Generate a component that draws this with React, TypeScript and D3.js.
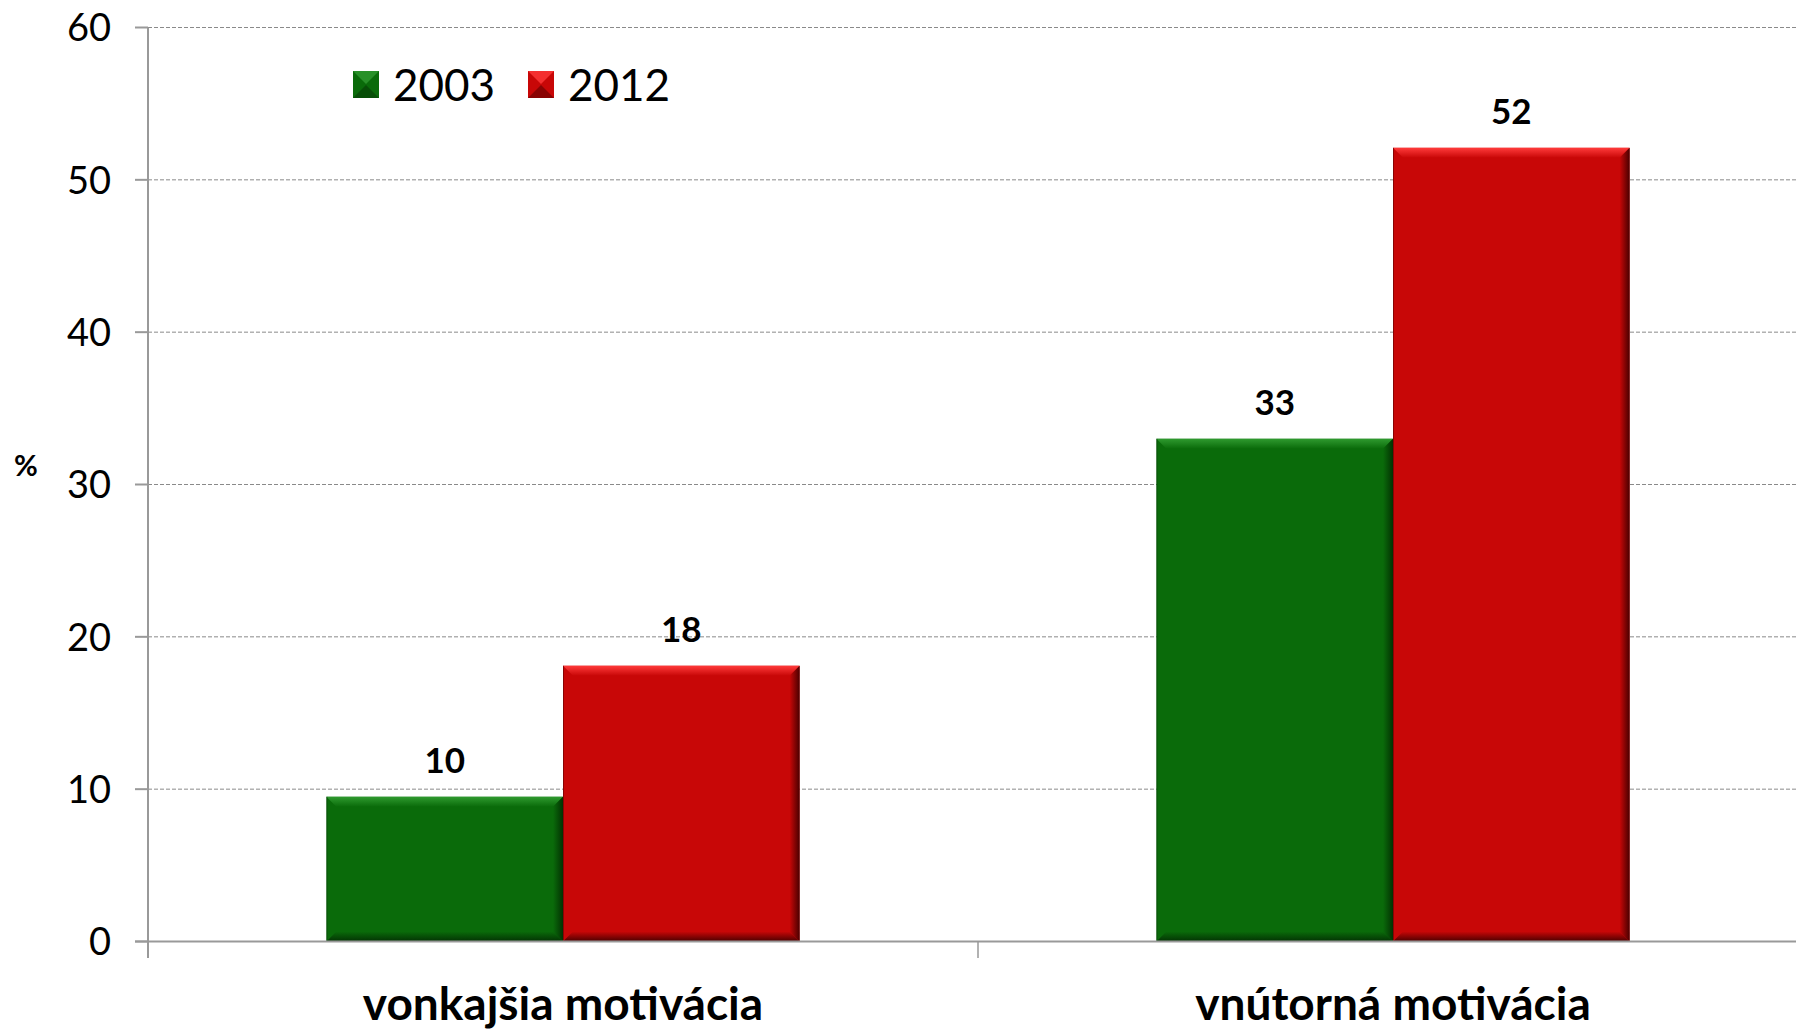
import React from "react";
import * as d3 from "d3";

const categories = ["vonkajšia motivácia", "vnútorná motivácia"];
const seriesNames = ["2003", "2012"];
const values2003 = [9.5, 33.0];
const values2012 = [18.1, 52.1];
const yTicks = [0, 10, 20, 30, 40, 50, 60];
const seriesColors = ["#0a6b0a", "#c80707"];
const seriesLight = ["#2f9a2f", "#ff3a3a"];
const seriesDark = ["#033203", "#4a0000"];

const W = 1796;
const H = 1029;
const FONT = "Lato, 'Open Sans', sans-serif";

export default function App() {
  const x0 = d3.scaleBand<string>().domain(categories).range([148, 1808]).paddingInner(0).paddingOuter(0);
  const x1 = d3.scaleBand<string>().domain(seriesNames).range([0, x0.bandwidth()]).paddingInner(0).paddingOuter(0.754);
  const y = d3.scaleLinear().domain([0, 60]).range([941.5, 27.5]);
  const fmt = d3.format(".0f");
  const seriesValues = [values2003, values2012];
  const b = 10;

  const bars: any[] = [];
  categories.forEach((c, ci) => {
    seriesNames.forEach((s, si) => {
      const v = seriesValues[si][ci];
      const bx = (x0(c) as number) + (x1(s) as number);
      const bw = x1.bandwidth();
      const top = y(v);
      const bot = y(0);
      bars.push({ key: c + s, bx, bw, top, bot, v, si });
    });
  });

  return (
    <svg width={W} height={H} style={{ position: "absolute", left: 0, top: 0, display: "block", background: "#fff" }}>
      <defs>
        {seriesNames.map((s, i) => (
          <React.Fragment key={s}>
            <linearGradient id={`top${i}`} x1="0" y1="0" x2="0" y2="1">
              <stop offset="0" stopColor={seriesLight[i]} />
              <stop offset="1" stopColor={seriesColors[i]} />
            </linearGradient>
            <linearGradient id={`right${i}`} x1="0" y1="0" x2="1" y2="0">
              <stop offset="0" stopColor={seriesColors[i]} />
              <stop offset="1" stopColor={seriesDark[i]} />
            </linearGradient>
            <linearGradient id={`bottom${i}`} x1="0" y1="0" x2="0" y2="1">
              <stop offset="0" stopColor={seriesColors[i]} />
              <stop offset="1" stopColor={seriesDark[i]} />
            </linearGradient>
          </React.Fragment>
        ))}
      </defs>

      {/* gridlines */}
      {yTicks.filter((t) => t > 0).map((t) => (
        <line key={t} x1={148} x2={W} y1={y(t)} y2={y(t)} stroke="#8a8a8a" strokeWidth={1} strokeDasharray="4,2" />
      ))}

      {/* y tick labels */}
      {yTicks.map((t) => (
        <text key={t} x={111} y={y(t)} dy="0.36em" textAnchor="end" fontFamily={FONT} fontSize={38} fill="#000">
          {t}
        </text>
      ))}
      {/* y axis ticks */}
      {yTicks.map((t) => (
        <line key={"yt" + t} x1={135} x2={148} y1={y(t)} y2={y(t)} stroke="#999" strokeWidth={2} />
      ))}
      <text x={26} y={476} textAnchor="middle" fontFamily={FONT} fontWeight="bold" fontSize={29} fill="#000">%</text>

      {/* bars */}
      {bars.map((d) => {
        const i = d.si;
        const r = d.bx + d.bw;
        return (
          <g key={d.key}>
            <rect x={d.bx} y={d.top} width={d.bw} height={d.bot - d.top} fill={seriesColors[i]} />
            <polygon points={`${d.bx},${d.top} ${r},${d.top} ${r - b},${d.top + b} ${d.bx + b},${d.top + b}`} fill={`url(#top${i})`} />
            <polygon points={`${r},${d.top} ${r},${d.bot} ${r - b},${d.bot - b} ${r - b},${d.top + b}`} fill={`url(#right${i})`} />
            <polygon points={`${d.bx},${d.bot} ${r},${d.bot} ${r - b},${d.bot - b} ${d.bx + b},${d.bot - b}`} fill={`url(#bottom${i})`} />
            <line x1={d.bx + 0.5} x2={d.bx + 0.5} y1={d.top} y2={d.bot} stroke={seriesDark[i]} strokeOpacity={0.5} strokeWidth={1} />
          </g>
        );
      })}

      {/* axes */}
      <line x1={148} x2={148} y1={27.5} y2={958} stroke="#999" strokeWidth={2} />
      <line x1={135} x2={W} y1={y(0)} y2={y(0)} stroke="#999" strokeWidth={2} />
      {categories.map((c) => (
        <line key={"xt" + c} x1={(x0(c) as number) + x0.bandwidth()} x2={(x0(c) as number) + x0.bandwidth()} y1={y(0)} y2={958} stroke="#999" strokeWidth={1.5} />
      ))}

      {/* data labels */}
      {bars.map((d) => (
        <text key={"l" + d.key} x={d.bx + d.bw / 2} y={d.top - 24} textAnchor="middle" fontFamily={FONT} fontWeight="bold" fontSize={35} fill="#000">
          {fmt(d.v)}
        </text>
      ))}

      {/* category labels */}
      {categories.map((c) => (
        <text key={"c" + c} x={(x0(c) as number) + x0.bandwidth() / 2} y={1020} textAnchor="middle" fontFamily={FONT} fontWeight="bold" fontSize={46} fill="#000">
          {c}
        </text>
      ))}

      {/* legend */}
      {seriesNames.map((s, i) => {
        const lx = [353, 528][i];
        return (
          <g key={"leg" + s}>
            <rect x={lx} y={71} width={26} height={27} fill={seriesColors[i]} />
            <polygon points={`${lx},71 ${lx + 26},71 ${lx + 13},84`} fill={seriesLight[i]} opacity={0.8} />
            <polygon points={`${lx},98 ${lx + 26},98 ${lx + 13},85`} fill={seriesDark[i]} opacity={0.5} />
            <text x={lx + 40} y={101} fontFamily={FONT} fontSize={44} fill="#000">{s}</text>
          </g>
        );
      })}
    </svg>
  );
}
